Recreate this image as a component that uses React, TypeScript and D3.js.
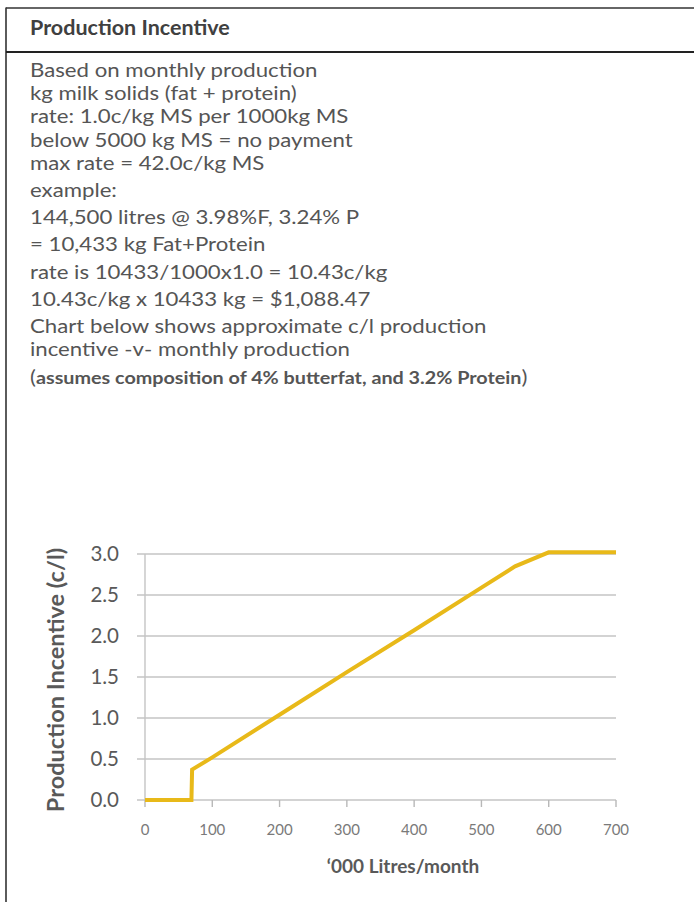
import React, { useEffect, useRef } from "react";
import * as d3 from "d3";

// text lines in the box above the chart
const introLines = [
  "Based on monthly production",
  "kg milk solids (fat + protein)",
  "rate: 1.0c/kg MS per 1000kg MS",
  "below 5000 kg MS = no payment",
  "max rate = 42.0c/kg MS",
];
const exampleLines = [
  "example:",
  "144,500 litres @ 3.98%F, 3.24% P",
  "= 10,433 kg Fat+Protein",
  "rate is 10433/1000x1.0 = 10.43c/kg",
  "10.43c/kg x 10433 kg = $1,088.47",
];
const chartNote = [
  "Chart below shows approximate c/l production",
  "incentive -v- monthly production",
];

// series: '000 litres/month vs c/l incentive
const litres = [0, 69, 70, 100, 200, 300, 400, 500, 550, 600, 650, 700];
const incentive = [0, 0, 0.37, 0.52, 1.04, 1.56, 2.07, 2.59, 2.85, 3.02, 3.02, 3.02];

const xTicks = [0, 100, 200, 300, 400, 500, 600, 700];
const yTicks = [0, 0.5, 1.0, 1.5, 2.0, 2.5, 3.0];

export default function App() {
  const canvas = useRef<HTMLDivElement>(null);

  useEffect(() => {
    const width = 694;
    const height = 902;
    const font = "Lato, 'Open Sans', sans-serif";
    const textCol = "#555555";

    d3.select(canvas.current).selectAll("*").remove();

    const svg = d3
      .select(canvas.current)
      .append("svg")
      .attr("width", width)
      .attr("height", height)
      .style("position", "absolute")
      .style("left", "0px")
      .style("top", "0px")
      .style("font-family", font);

    // frame
    svg.append("line").attr("x1", 6).attr("x2", 6).attr("y1", 7.5).attr("y2", height)
      .attr("stroke", "#333").attr("stroke-width", 1.6);
    svg.append("line").attr("x1", 6).attr("x2", width).attr("y1", 8).attr("y2", 8)
      .attr("stroke", "#333").attr("stroke-width", 1.6);
    svg.append("line").attr("x1", 6).attr("x2", width).attr("y1", 52).attr("y2", 52)
      .attr("stroke", "#222").attr("stroke-width", 1.8);

    svg.append("text")
      .attr("x", 30).attr("y", 35)
      .attr("font-size", 21.5).attr("font-weight", "bold")
      .attr("fill", "#404040")
      .text("Production Incentive");

    // body text: narrower font size stretched sideways to mimic the condensed original
    const body = svg.append("g").attr("transform", "translate(30,0) scale(1.17,1)");

    const addLine = (t: string, y: number) =>
      body.append("text").attr("x", 0).attr("y", y)
        .attr("font-size", 19).attr("fill", textCol).text(t);

    introLines.forEach((t, i) => addLine(t, 77 + i * 23.2));
    exampleLines.forEach((t, i) => addLine(t, 197 + i * 27.2));
    chartNote.forEach((t, i) => addLine(t, 333 + i * 23.2));

    const note = body.append("text").attr("x", 0).attr("y", 384)
      .attr("font-size", 19).attr("fill", textCol);
    note.append("tspan").text("(");
    note.append("tspan").attr("font-weight", "bold").attr("font-size", 16.9)
      .text("assumes composition of 4% butterfat, and 3.2% Protein");
    note.append("tspan").text(")");

    // chart
    const x = d3.scaleLinear().domain([0, 700]).range([145, 616]);
    const y = d3.scaleLinear().domain([0, 3]).range([800, 554]);

    const grid = svg.append("g");
    grid.selectAll("line")
      .data(yTicks)
      .enter()
      .append("line")
      .attr("x1", x(0) - 8)
      .attr("x2", x(700))
      .attr("y1", (d) => y(d))
      .attr("y2", (d) => y(d))
      .attr("stroke", "#c4c4c4")
      .attr("stroke-width", 1.6);

    svg.append("line")
      .attr("x1", x(0)).attr("x2", x(0))
      .attr("y1", y(0)).attr("y2", y(3))
      .attr("stroke", "#c4c4c4").attr("stroke-width", 1.4);

    svg.append("g")
      .selectAll("line")
      .data(xTicks)
      .enter()
      .append("line")
      .attr("x1", (d) => x(d))
      .attr("x2", (d) => x(d))
      .attr("y1", y(0))
      .attr("y2", y(0) + 7)
      .attr("stroke", "#b8b8b8")
      .attr("stroke-width", 1.4);

    svg.append("g")
      .selectAll("text")
      .data(yTicks)
      .enter()
      .append("text")
      .attr("x", 119)
      .attr("y", (d) => y(d) + 7)
      .attr("text-anchor", "end")
      .attr("font-size", 20.5)
      .attr("fill", "#595959")
      .text((d) => d3.format(".1f")(d));

    svg.append("g")
      .selectAll("text")
      .data(xTicks)
      .enter()
      .append("text")
      .attr("x", (d) => x(d))
      .attr("y", 835)
      .attr("text-anchor", "middle")
      .attr("font-size", 15)
      .attr("fill", "#7a7a7a")
      .text((d) => d);

    const line = d3
      .line<number>()
      .x((d) => x(d))
      .y((d, i) => y(incentive[i]));

    svg.append("path")
      .datum(litres)
      .attr("d", line)
      .attr("fill", "none")
      .attr("stroke", "#e8b919")
      .attr("stroke-width", 4);

    svg.append("text")
      .attr("text-anchor", "middle")
      .attr("transform", `translate(64,680) rotate(-90)`)
      .attr("font-size", 23.5)
      .attr("font-weight", "bold")
      .attr("fill", "#595959")
      .text("Production Incentive (c/l)");

    svg.append("text")
      .attr("text-anchor", "middle")
      .attr("x", 403)
      .attr("y", 873)
      .attr("font-size", 19)
      .attr("font-weight", "bold")
      .attr("fill", "#595959")
      .text("\u2018000 Litres/month");
  }, []);

  return <div ref={canvas}></div>;
}
